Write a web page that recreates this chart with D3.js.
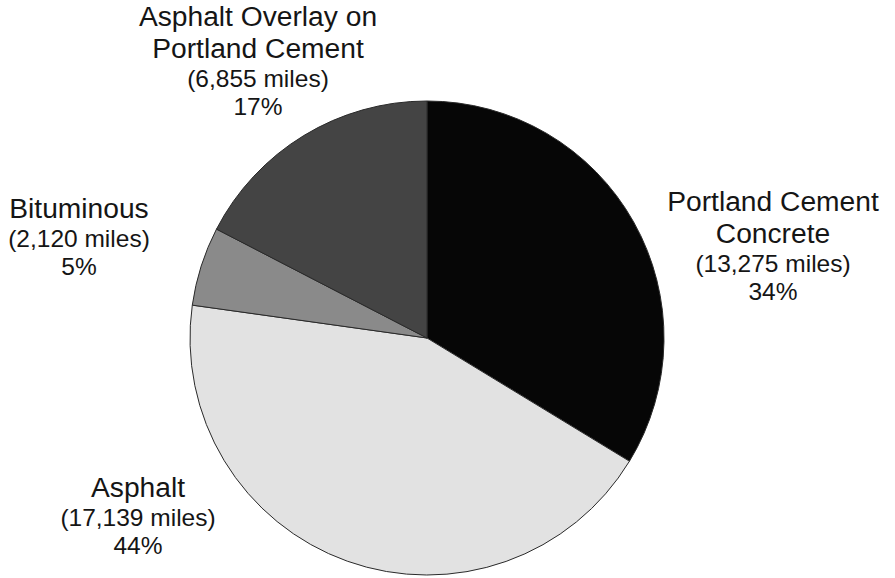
<!DOCTYPE html>
<html><head><meta charset="utf-8">
<script src="https://cdn.jsdelivr.net/npm/d3@7"></script>
<style>body{margin:0;background:#fff}svg{display:block}</style>
</head><body>
<script>
const categories = ["Portland Cement Concrete", "Asphalt", "Bituminous", "Asphalt Overlay on Portland Cement"];
const miles = [13275, 17139, 2120, 6855];
const mileLabels = ["(13,275 miles)", "(17,139 miles)", "(2,120 miles)", "(6,855 miles)"];
const pctLabels = ["34%", "44%", "5%", "17%"];
const titleLines = [["Portland Cement", "Concrete"], ["Asphalt"], ["Bituminous"], ["Asphalt Overlay on", "Portland Cement"]];
const fills = ["#060606", "#e2e2e2", "#8a8a8a", "#444444"];

const W = 895, H = 578;
const svg = d3.select("body").append("svg").attr("width", W).attr("height", H);
const cx = 427, cy = 338, R = 237;

const pie = d3.pie().sort(null).value(d => d)(miles);
const arc = d3.arc().innerRadius(0).outerRadius(R);

const g = svg.append("g").attr("transform", `translate(${cx},${cy})`);
g.selectAll("path").data(pie).join("path")
  .attr("d", arc)
  .attr("fill", (d, i) => fills[i])
  .attr("stroke", "#2a2a2a")
  .attr("stroke-width", 1);

// label anchors (center x, first baseline)
const labelPos = [[773, 211], [138, 497], [79, 218], [258, 26]];
const font = "'Liberation Sans', Arial, Helvetica, sans-serif";
categories.forEach((c, i) => {
  const [x, y0] = labelPos[i];
  const lg = svg.append("g").attr("class", "label").attr("font-family", font).attr("fill", "#151515").attr("text-anchor", "middle");
  let y = y0;
  titleLines[i].forEach((line, k) => {
    if (k > 0) y += 31.5;
    lg.append("text").attr("x", x).attr("y", y).attr("font-size", 28.2).text(line);
  });
  y += 29;
  lg.append("text").attr("x", x).attr("y", y).attr("font-size", 24.5).text(mileLabels[i]);
  y += 28;
  lg.append("text").attr("x", x).attr("y", y).attr("font-size", 24.5).text(pctLabels[i]);
});
</script>
</body></html>
